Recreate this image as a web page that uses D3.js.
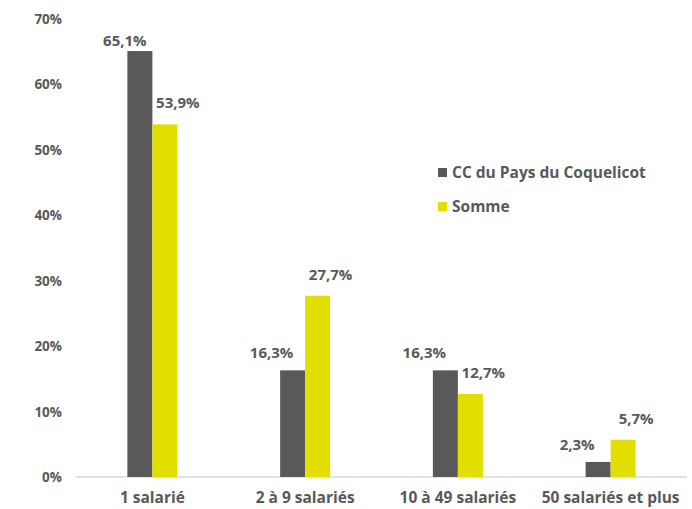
<!DOCTYPE html>
<html><head><meta charset="utf-8">
<script src="https://cdn.jsdelivr.net/npm/d3@7"></script>
<style>body{margin:0;background:#fff}svg{display:block}text{font-family:"Open Sans",Lato,sans-serif;font-weight:bold;fill:#595959}</style>
</head><body><svg id="c" width="692" height="509"></svg>
<script>
const categories = ["1 salarié","2 à 9 salariés","10 à 49 salariés","50 salariés et plus"];
const seriesNames = ["CC du Pays du Coquelicot","Somme"];
const ccValues = [65.1,16.3,16.3,2.3];
const sommeValues = [53.9,27.7,12.7,5.7];
const yTicks = [0,10,20,30,40,50,60,70];
const colors = ["#595959","#e2df00"];

const svg = d3.select("#c");
const x = d3.scaleBand().domain(categories).range([76,687]);
const y = d3.scaleLinear().domain([0,70]).range([477,19]);
const barW = 25;

svg.append("line").attr("x1",76).attr("x2",687).attr("y1",y(0)).attr("y2",y(0)).attr("stroke","#d9d9d9").attr("stroke-width",1.5);

svg.selectAll(".yt").data(yTicks).join("text").attr("class","yt")
  .attr("x",62).attr("y",d=>y(d)+5).attr("text-anchor","end").attr("font-size",13.5).text(d=>d+"%");

svg.selectAll(".xt").data(categories).join("text").attr("class","xt")
  .attr("x",d=>x(d)+x.bandwidth()/2).attr("y",503).attr("text-anchor","middle").attr("font-size",15.5).text(d=>d);

const fmt = v => d3.format(".1f")(v).replace(".",",")+"%";
const series = [ccValues, sommeValues];
series.forEach((vals,si)=>{
  const g = svg.append("g");
  g.selectAll("rect").data(vals).join("rect")
    .attr("x",(d,i)=>x(categories[i])+x.bandwidth()/2 + (si===0?-barW:0))
    .attr("y",d=>y(d)).attr("width",barW).attr("height",d=>y(0)-y(d)).attr("fill",colors[si]);
  g.selectAll("text").data(vals).join("text")
    .attr("x",(d,i)=>x(categories[i])+x.bandwidth()/2 + (si===0?(y(d)<60?-barW/2-15:-barW/2-21):barW/2+13))
    .attr("y",d=>Math.max(y(d)-(si===0?12:16),46))
    .attr("text-anchor","middle").attr("font-size",15).text(d=>fmt(d));
});

seriesNames.forEach((n,i)=>{
  const ly = 173 + i*34;
  svg.append("rect").attr("x",438).attr("y",ly-5).attr("width",9).attr("height",9).attr("fill",colors[i]);
  svg.append("text").attr("x",452).attr("y",ly+5).attr("font-size",15.5).text(n);
});
</script></body></html>
